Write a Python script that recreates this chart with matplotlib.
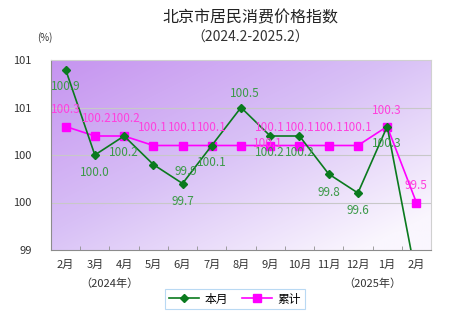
import numpy as np
import matplotlib
matplotlib.use('Agg')
import matplotlib.pyplot as plt
from matplotlib.colors import LinearSegmentedColormap

plt.rcParams['font.family'] = ['Noto Sans CJK SC', 'DejaVu Sans']

# 北京市居民消费价格指数 (上年同期=100)
months = ['2月', '3月', '4月', '5月', '6月', '7月', '8月', '9月', '10月', '11月', '12月', '1月', '2月']
monthly = [100.9, 100.0, 100.2, 99.9, 99.7, 100.1, 100.5, 100.2, 100.2, 99.8, 99.6, 100.3, 98.7]
cumulative = [100.3, 100.2, 100.2, 100.1, 100.1, 100.1, 100.1, 100.1, 100.1, 100.1, 100.1, 100.3, 99.5]
y_ticks = [99.0, 99.5, 100.0, 100.5, 101.0]
y_tick_labels = ['99', '100', '100', '101', '101']

# 数据标签偏移 (像素)
monthly_offsets = [(0, -17), (0, -18), (0, -17), (33, -7), (0, -18), (0, -17),
                   (4, 14), (0, -17), (0, -17), (0, -19), (0, -18), (0, -17), (0, -17)]
cum_offsets = [(0, 17), (2, 17), (2, 17), (0, 18), (0, 18), (0, 18),
               (27, 2), (0, 18), (0, 18), (0, 18), (0, 18), (0, 16), (0, 17)]

green = '#0a7a1e'
green_txt = '#3c9a48'
pink = '#ff00ff'
pink_txt = '#ff40dd'

fig = plt.figure(figsize=(4.66, 3.25), dpi=100)
ax = fig.add_axes([51 / 466, 75 / 325, 380 / 466, 190 / 325])

x = np.arange(len(months))
ax.set_xlim(-0.5, len(months) - 0.5)
ax.set_ylim(99.0, 101.0)

# 背景渐变：左上紫色到右下近白
gx, gy = np.meshgrid(np.linspace(0, 1, 200), np.linspace(0, 1, 200))
t = np.clip(0.55 * gx + 0.55 * gy, 0, 1)
cmap = LinearSegmentedColormap.from_list('bg', ['#c694f0', '#d8c0f6', '#faf6fe'])
ax.imshow(t, cmap=cmap, extent=[-0.5, len(months) - 0.5, 99.0, 101.0],
          aspect='auto', origin='upper', zorder=0, interpolation='bilinear')

for yv in [99.5, 100.0, 100.5]:
    ax.axhline(yv, color='#c8c8c8', lw=0.8, zorder=1)

ax.plot(x, monthly, color=green, lw=1.2, marker='D', ms=4, mfc=green, mec=green,
        zorder=3, label='本月')
ax.plot(x, cumulative, color=pink, lw=1.2, marker='s', ms=6, mfc=pink, mec=pink,
        zorder=2, label='累计')

for i, v in enumerate(monthly):
    if v < 99.0:
        continue
    ax.annotate(f'{v:.1f}', (x[i], v), xytext=monthly_offsets[i], textcoords='offset pixels',
                ha='center', va='center', fontsize=8.5, color=green_txt, zorder=4)
for i, v in enumerate(cumulative):
    ax.annotate(f'{v:.1f}', (x[i], v), xytext=cum_offsets[i], textcoords='offset pixels',
                ha='center', va='center', fontsize=8.5, color=pink_txt, zorder=4)

ax.set_yticks(y_ticks)
ax.set_yticklabels(y_tick_labels)
ax.tick_params(axis='y', length=0, pad=14, labelsize=8, labelcolor='#333333')

ax.set_xticks(x)
ax.set_xticklabels(months)
ax.set_xticks(np.arange(0.5, len(months) - 1, 1.0), minor=True)
ax.tick_params(axis='x', which='major', length=0, pad=7, labelsize=8, labelcolor='#333333')
ax.tick_params(axis='x', which='minor', direction='in', length=3, color='#909090')

for side in ['left', 'bottom']:
    ax.spines[side].set_color('#8c8c8c')
for side in ['top', 'right']:
    ax.spines[side].set_color('#d0d0d0')

ax.text(1.5, -0.175, '（2024年）', transform=ax.get_xaxis_transform(), ha='center', va='center',
        fontsize=8, color='#333333')
ax.text(10.5, -0.175, '（2025年）', transform=ax.get_xaxis_transform(), ha='center', va='center',
        fontsize=8, color='#333333')

fig.text(250 / 466, 1 - 18 / 325, '北京市居民消费价格指数', ha='center', va='center',
         fontsize=11.5, color='#222222')
fig.text(250 / 466, 1 - 38 / 325, '（2024.2-2025.2）', ha='center', va='center',
         fontsize=10, color='#333333')
fig.text(45 / 466, 1 - 38 / 325, '(%)', ha='center', va='center', fontsize=7, color='#333333')

leg = fig.legend(loc='center', bbox_to_anchor=(235 / 466, 1 - 299 / 325), ncol=2, fontsize=8.5,
                 frameon=True, fancybox=False, handlelength=2.5, columnspacing=1.2,
                 borderpad=0.3, handletextpad=0.5)
leg.get_frame().set_edgecolor('#a8d0f0')
leg.get_frame().set_linewidth(0.8)
leg.legend_handles[0].set_markersize(4)
leg.legend_handles[1].set_markersize(6)

fig.savefig('out.png', dpi=100)
